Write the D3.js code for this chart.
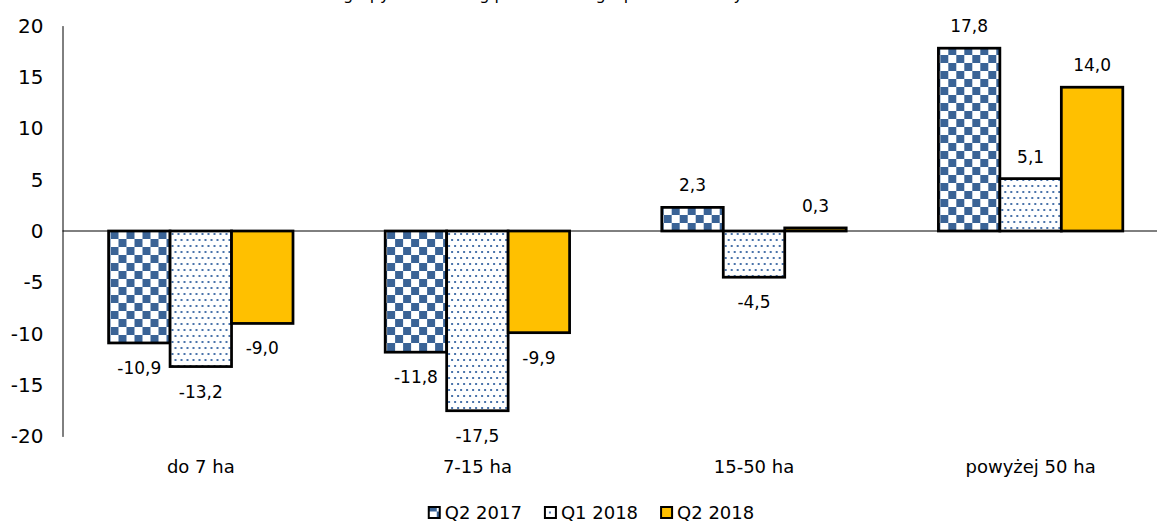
<!DOCTYPE html>
<html>
<head>
<meta charset="utf-8">
<script src="https://cdn.jsdelivr.net/npm/d3@7"></script>
<style>
  html, body { margin: 0; padding: 0; background: #ffffff; }
  svg { display: block; }
  text { font-family: "DejaVu Sans", Verdana, sans-serif; fill: #000; }
</style>
</head>
<body>
<svg id="chart" width="1157" height="525"></svg>
<script>
// Category groups (farm area) and the three compared quarters
const categories = ["do 7 ha", "7-15 ha", "15-50 ha", "powyżej 50 ha"];
const seriesNames = ["Q2 2017", "Q1 2018", "Q2 2018"];

// Values per quarter, one entry per category
const q2_2017 = [-10.9, -11.8, 2.3, 17.8];
const q1_2018 = [-13.2, -17.5, -4.5, 5.1];
const q2_2018 = [-9.0, -9.9, 0.3, 14.0];

// Value axis ticks
const yTicks = [-20, -15, -10, -5, 0, 5, 10, 15, 20];

const titleText = "Salda ocen dla grupy rolników wg powierzchni gospodarstw rolnych";

const seriesValues = [q2_2017, q1_2018, q2_2018];
const fills = ["url(#pat-checker)", "url(#pat-dots)", "#FFC000"];

const svg = d3.select("#chart");

const plot = { left: 62.5, right: 1168.9, top: 25.6, bottom: 436.4 };

const y = d3.scaleLinear().domain([-20, 20]).range([plot.bottom, plot.top]);
const x0 = d3.scaleBand().domain(categories).range([plot.left, plot.right]);
const x1 = d3.scaleBand().domain(seriesNames).range([0, x0.bandwidth()])
  .paddingInner(0).paddingOuter(0.75);

// Polish number style: decimal comma, plain hyphen minus
const plLocale = d3.formatLocale({ decimal: ",", thousands: " ", grouping: [3], currency: ["", ""], minus: "-" });
const fmt = plLocale.format(".1f");

// Fill patterns
const defs = svg.append("defs");
const chk = defs.append("pattern")
  .attr("id", "pat-checker")
  .attr("patternUnits", "userSpaceOnUse")
  .attr("x", 0).attr("y", y(0))
  .attr("width", 16).attr("height", 16);
chk.append("rect").attr("width", 16).attr("height", 16).attr("fill", "#ffffff");
chk.append("rect").attr("x", 0).attr("y", 0).attr("width", 8).attr("height", 8).attr("fill", "#3a6396");
chk.append("rect").attr("x", 8).attr("y", 8).attr("width", 8).attr("height", 8).attr("fill", "#3a6396");

const dots = defs.append("pattern")
  .attr("id", "pat-dots")
  .attr("patternUnits", "userSpaceOnUse")
  .attr("x", 0).attr("y", y(0))
  .attr("width", 12).attr("height", 12);
dots.append("rect").attr("width", 12).attr("height", 12).attr("fill", "#ffffff");
[[1, 2], [7, 2], [4, 8], [10, 8]].forEach(([dx, dy]) => {
  dots.append("rect").attr("x", dx).attr("y", dy).attr("width", 2).attr("height", 2).attr("fill", "#4a73aa");
});

// Title (sits at the very top edge)
svg.append("text")
  .attr("x", 762).attr("y", 0)
  .attr("text-anchor", "end")
  .style("font-size", "16px")
  .text(titleText);

// Y axis
const yAxis = svg.append("g")
  .attr("transform", `translate(${plot.left},0)`)
  .call(d3.axisLeft(y).tickValues(yTicks).tickSize(0).tickPadding(19).tickFormat(d => String(d)));
yAxis.select(".domain").attr("stroke", "#000").attr("stroke-width", 1);
yAxis.selectAll("text").style("font-size", "20px").style("font-family", "DejaVu Sans, Verdana, sans-serif");

// Category labels
const xAxis = svg.append("g")
  .attr("transform", `translate(0,${plot.bottom})`)
  .call(d3.axisBottom(x0).tickSize(0).tickPadding(24));
xAxis.select(".domain").remove();
xAxis.selectAll("text").style("font-size", "18px").style("font-family", "DejaVu Sans, Verdana, sans-serif");

// Bars
const groups = svg.append("g").selectAll("g")
  .data(categories)
  .join("g")
  .attr("transform", d => `translate(${x0(d)},0)`);

groups.each(function(cat, ci) {
  const g = d3.select(this);
  seriesNames.forEach((s, si) => {
    const v = seriesValues[si][ci];
    g.append("rect")
      .attr("x", x1(s))
      .attr("y", y(Math.max(0, v)))
      .attr("width", x1.bandwidth())
      .attr("height", Math.abs(y(v) - y(0)))
      .attr("fill", fills[si])
      .attr("stroke", "#000")
      .attr("stroke-width", 2.75);
  });
});

// Zero line
svg.append("line")
  .attr("x1", plot.left).attr("x2", plot.right)
  .attr("y1", y(0)).attr("y2", y(0))
  .attr("stroke", "#000").attr("stroke-width", 1);

// Value labels
groups.each(function(cat, ci) {
  const g = d3.select(this);
  seriesNames.forEach((s, si) => {
    const v = seriesValues[si][ci];
    g.append("text")
      .attr("x", x1(s) + x1.bandwidth() / 2)
      .attr("y", v >= 0 ? y(v) - 22 : y(v) + 25)
      .attr("dy", "0.35em")
      .attr("text-anchor", "middle")
      .style("font-size", "17px")
      .text(fmt(v));
  });
});

// Legend
const legend = svg.append("g");
const itemGap = 23, markerSize = 11, markerGap = 5;
const items = legend.selectAll("g").data(seriesNames).join("g");
items.append("rect")
  .attr("x", 0).attr("y", -markerSize / 2)
  .attr("width", markerSize).attr("height", markerSize)
  .attr("fill", (d, i) => fills[i])
  .attr("stroke", "#000").attr("stroke-width", 2);
items.append("text")
  .attr("x", markerSize + markerGap)
  .attr("dy", "0.35em")
  .style("font-size", "18px")
  .text(d => d);
const widths = [];
items.each(function() { widths.push(this.getBBox().width); });
const total = d3.sum(widths) + itemGap * (widths.length - 1);
let lx = 591.5 - total / 2;
items.attr("transform", (d, i) => {
  const t = `translate(${lx},512.5)`;
  lx += widths[i] + itemGap;
  return t;
});
</script>
</body>
</html>
